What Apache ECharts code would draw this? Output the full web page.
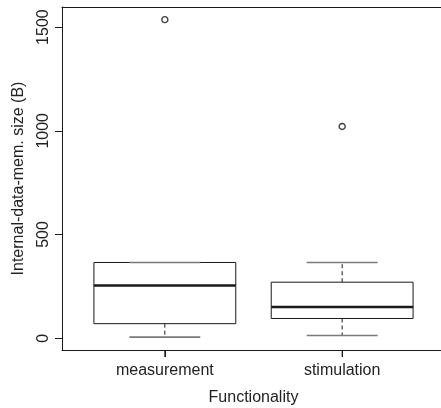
<!DOCTYPE html>
<html><head><meta charset="utf-8">
<script src="https://cdn.jsdelivr.net/npm/echarts@6/dist/echarts.min.js"></script>
<style>html,body{margin:0;padding:0;background:#fff}#c{width:441px;height:408px}</style>
</head><body><div id="c"></div>
<script>
// ---- data ----
const categories = ['measurement', 'stimulation'];
const whiskerLow = [5, 13];
const q1 = [70, 95];
const median = [254, 150];
const q3 = [365, 270];
const whiskerHigh = [365, 365];
const outlierCategory = [0, 1];
const outlierValue = [1536, 1021];
const yTicks = [0, 500, 1000, 1500];
const xTicks = [1, 2];

const Y_MIN = -57, Y_MAX = 1597;
const boxData = categories.map((c, i) => [i + 1, whiskerLow[i], q1[i], median[i], q3[i], whiskerHigh[i]]);
const outlierData = outlierCategory.map((c, i) => [c + 1, outlierValue[i]]);

const ink = '#1a1a1a';
const font = 'Liberation Sans, Arial, Helvetica, sans-serif';

const chart = echarts.init(document.getElementById('c'));
chart.setOption({
  animation: false,
  backgroundColor: '#fff',
  grid: { left: 62, width: 383, top: 7, height: 343, show: false, containLabel: false, outerBoundsMode: 'none' },
  xAxis: [{
    type: 'value', min: 0.42, max: 2.58, position: 'bottom',
    axisLine: { show: true, onZero: false, lineStyle: { color: ink, width: 1 } },
    splitLine: { show: false },
    axisTick: { show: true, inside: false, length: 7, customValues: xTicks, lineStyle: { color: ink } },
    axisLabel: { customValues: xTicks, formatter: v => categories[Math.round(v) - 1], fontSize: 16, color: '#222', fontFamily: font, margin: 13 },
    name: 'Functionality', nameLocation: 'middle', nameGap: 40,
    nameTextStyle: { fontSize: 16, color: '#222', fontFamily: font }
  }, {
    type: 'value', min: 0.42, max: 2.58, position: 'top',
    axisLine: { show: true, onZero: false, lineStyle: { color: ink, width: 1 } },
    splitLine: { show: false }, axisTick: { show: false }, axisLabel: { show: false }
  }],
  yAxis: {
    type: 'value', min: Y_MIN, max: Y_MAX, position: 'left',
    axisLine: { show: true, onZero: false, lineStyle: { color: ink, width: 1 } },
    splitLine: { show: false },
    axisTick: { show: true, length: 7, customValues: yTicks, lineStyle: { color: ink } },
    axisLabel: { customValues: yTicks, formatter: v => String(v), rotate: 90, fontSize: 16, color: '#222', fontFamily: font, margin: 10 },
    name: 'Internal-data-mem. size (B)', nameLocation: 'middle', nameGap: 35,
    nameTextStyle: { fontSize: 16, color: '#222', fontFamily: font }
  },
  series: [
    {
      type: 'custom',
      data: boxData,
      clip: false,
      encode: { x: 0, y: [1, 2, 3, 4, 5] },
      renderItem: function (params, api) {
        const x = api.value(0);
        const lo = api.coord([x, api.value(1)]);
        const b1 = api.coord([x, api.value(2)]);
        const md = api.coord([x, api.value(3)]);
        const b3 = api.coord([x, api.value(4)]);
        const hi = api.coord([x, api.value(5)]);
        const base = api.coord([x, Y_MIN]);
        const bw = api.size([0.8, 0])[0];
        const cw = bw / 4;
        const cx = lo[0];
        const dash = { stroke: ink, lineWidth: 1, lineDash: [4, 3] };
        const cap = { stroke: '#7a7a7a', lineWidth: 1.6 };
        return {
          type: 'group',
          children: [
            { type: 'line', shape: { x1: cx, y1: base[1], x2: cx, y2: base[1] + 7 }, style: { stroke: ink, lineWidth: 1 } },
            { type: 'line', shape: { x1: cx, y1: b3[1], x2: cx, y2: hi[1] }, style: dash },
            { type: 'line', shape: { x1: cx, y1: b1[1], x2: cx, y2: lo[1] }, style: dash },
            { type: 'rect', shape: { x: cx - bw / 2, y: b3[1], width: bw, height: b1[1] - b3[1] }, style: { fill: '#fff', stroke: ink, lineWidth: 1 } },
            { type: 'line', shape: { x1: cx - cw, y1: hi[1], x2: cx + cw, y2: hi[1] }, style: cap },
            { type: 'line', shape: { x1: cx - cw, y1: lo[1], x2: cx + cw, y2: lo[1] }, style: cap },
            { type: 'line', shape: { x1: cx - bw / 2, y1: md[1], x2: cx + bw / 2, y2: md[1] }, style: { stroke: ink, lineWidth: 2.5 } }
          ]
        };
      }
    },
    {
      type: 'scatter',
      data: outlierData,
      symbol: 'circle',
      symbolSize: 6,
      itemStyle: { color: '#fff', borderColor: '#111', borderWidth: 1.4 }
    }
  ]
});
</script>
</body></html>
